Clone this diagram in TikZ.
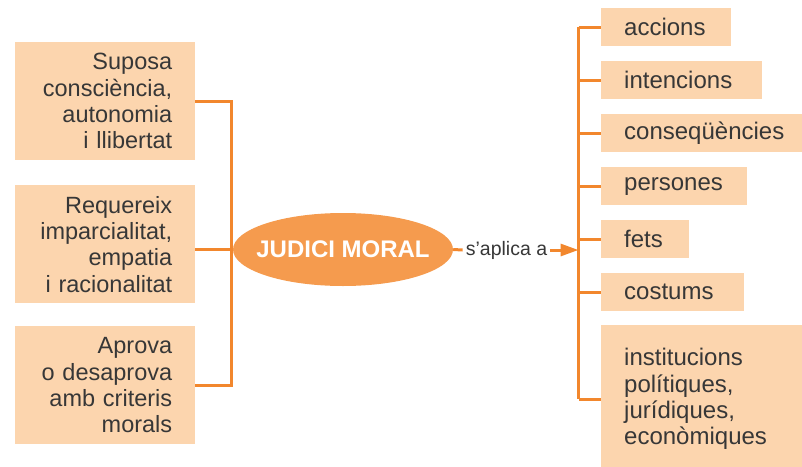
\documentclass[tikz,border=0pt]{standalone}
\usepackage{fontspec}
\setmainfont{Liberation Sans}
\usetikzlibrary{arrows.meta,shapes.geometric}

\definecolor{linkorange}{RGB}{242,135,45}
\definecolor{boxpeach}{RGB}{252,213,174}
\definecolor{moralorange}{RGB}{245,155,78}
\definecolor{textgray}{RGB}{55,55,55}

\tikzset{
  leftbox/.style={fill=boxpeach, text=textgray, anchor=north west, inner xsep=23pt, inner ysep=0pt,
    text width=134pt, align=right, minimum height=118pt, font=\fontsize{23.5}{26.3}\selectfont},
  rightbox/.style={fill=boxpeach, text=textgray, anchor=north west, inner xsep=23pt, inner ysep=0pt,
    align=left, minimum height=38pt, font=\fontsize{24}{26.3}\selectfont},
  link/.style={draw=linkorange, line width=3pt}
}

\begin{document}
\begin{tikzpicture}[x=1pt,y=-1pt]
\useasboundingbox (0,0) rectangle (802,466);

%BOXES
%Left Side
\node [leftbox] (sup) at (15,42)  {Suposa\\consciència,\\autonomia\\i llibertat};
\node [leftbox] (req) at (15,185) {Requereix\\imparcialitat,\\empatia\\i racionalitat};
\node [leftbox] (apr) at (15,326) {Aprova\\o desaprova\\amb criteris\\morals};

%Right Side
\foreach \n/\y/\w/\txt in {acc/8/130/accions, int/61/161/intencions, con/114/201/conseqüències,
                           per/167/146/persones, fet/220/88/fets, cos/273/143/costums}
{
\pgfmathsetmacro\tw{\w-46}
\node [rightbox, text width=\tw pt] (\n) at (601,\y) {\txt};
}
\node [rightbox, text width=155pt, minimum height=148pt] (inst) at (601,325)
  {institucions\\polítiques,\\jurídiques,\\econòmiques};

%CENTRE
\node [ellipse, fill=moralorange, minimum width=220pt, minimum height=73pt, inner sep=0pt] (moral) at (343,249.5) {};
\node [text=white, inner sep=0pt, font=\bfseries\fontsize{24}{26}\selectfont] (moraltxt) at (moral.center) {JUDICI MORAL};
\node [text=textgray, inner xsep=3pt, font=\fontsize{19.5}{22}\selectfont] (apl) at (506.5,250) {s’aplica a};

%Connectors
\coordinate (lbus) at (231,250);
\coordinate (rbus) at (578.5,250);

\draw [link] (sup.east) -| (lbus |- apr.east) -- (apr.east);
\draw [link] (moral.west -| req.east) -- (moral.west);

\draw [link] (moral.east) -- (apl.west);
\draw [link, -{Triangle[length=18pt,width=12pt]}] (apl.east) -- (rbus);

\draw [link] (rbus |- acc.west) -- (rbus |- inst.west);
\foreach \n in {acc,int,con,per,fet,cos,inst}
{
\draw [link] (rbus |- \n.west) -- (\n.west);
}

\end{tikzpicture}
\end{document}
